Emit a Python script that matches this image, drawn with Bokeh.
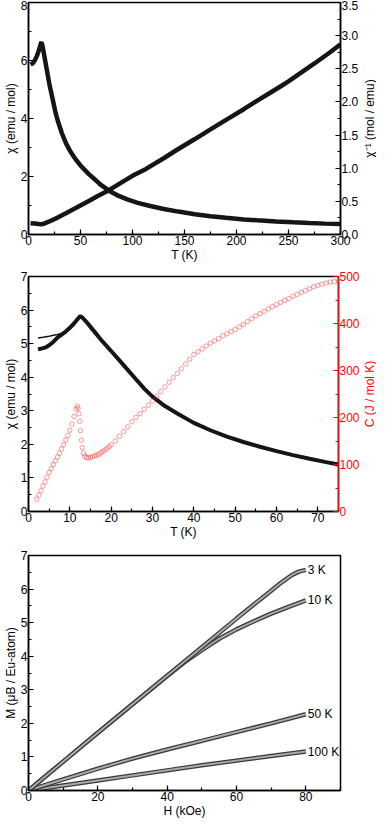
import math
from bokeh.plotting import figure
from bokeh.models import Range1d, LinearAxis, SingleIntervalTicker, PrintfTickFormatter
from bokeh.layouts import column, row
from bokeh.embed import file_html
from bokeh.resources import INLINE
from bokeh.core.properties import value

FONT = "Liberation Sans"

# ---------------- Panel 1 data: chi(T) and 1/chi(T), 2-300 K ----------------
t_chi1 = [2, 4, 6, 8, 10, 12, 12.5, 13.5, 15, 16, 18, 20, 23.5, 26, 28, 32, 36, 40,
          45.4, 50, 58, 65, 70, 77, 85, 95, 105, 116, 130, 144, 160, 175, 190,
          207, 220, 238, 255, 270, 285, 300]
chi1 = [5.86, 5.9, 6.0, 6.15, 6.35, 6.6, 6.63, 6.5, 6.2, 6.0, 5.6, 5.2, 4.62, 4.2,
        3.94, 3.5, 3.15, 2.88, 2.59, 2.38, 2.08, 1.86, 1.70, 1.52, 1.36, 1.21, 1.09,
        0.99, 0.88, 0.79, 0.70, 0.63, 0.575, 0.52, 0.49, 0.45, 0.42, 0.395, 0.375, 0.36]
t_inv1 = [2, 6, 10, 12.5, 15, 20, 28, 36, 45, 58, 67, 77, 90, 100, 113, 130, 144, 160,
          175, 190, 207, 220, 232, 243, 250, 260, 275, 290, 300]
inv1 = [0.17, 0.165, 0.158, 0.155, 0.165, 0.197, 0.255, 0.32, 0.395, 0.505, 0.585,
        0.665, 0.79, 0.885, 0.99, 1.15, 1.29, 1.44, 1.585, 1.73, 1.89, 2.02, 2.135,
        2.24, 2.31, 2.42, 2.58, 2.75, 2.87]

# ---------------- Panel 2 data: chi(T) and C(T), 2-75 K ----------------
t_chi2 = [2.3, 3, 4, 5, 6, 7, 8, 9, 10, 11, 12, 12.5, 13, 14, 15, 16, 17, 18, 20,
          22, 24, 26, 28, 30, 33, 36, 40, 44, 48, 52, 56, 60, 64, 68, 72, 75]
chi2 = [4.83, 4.85, 4.88, 4.95, 5.05, 5.18, 5.27, 5.36, 5.47, 5.6, 5.75, 5.82, 5.78,
        5.65, 5.5, 5.35, 5.2, 5.05, 4.78, 4.5, 4.22, 3.94, 3.66, 3.42, 3.14, 2.92,
        2.64, 2.42, 2.23, 2.07, 1.93, 1.80, 1.68, 1.57, 1.47, 1.40]
t_chi2_up = [2.3, 3.5, 5, 6, 7, 8, 9]
chi2_up = [5.17, 5.19, 5.22, 5.25, 5.27, 5.30, 5.36]

t_c = [2, 2.5, 3, 3.5, 4, 4.5, 5, 5.5, 6, 6.5, 7, 7.5, 8, 8.5, 9, 9.5, 10, 10.5, 11,
       11.5, 11.8, 12.0, 12.2, 12.4, 12.6, 12.8, 13.0, 13.3, 13.6, 14, 14.5, 15, 15.5,
       16, 16.5, 17, 17.5, 18, 18.5, 19, 19.5, 20, 21, 22, 23, 24, 25, 26, 27, 28, 29,
       30, 31, 32, 33, 34, 35, 36, 37, 38, 39, 40, 41, 42, 43, 44, 45, 46, 47, 48, 49,
       50, 51, 52, 53, 54, 55, 56, 57, 58, 59, 60, 61, 62, 63, 64, 65, 66, 67, 68, 69,
       70, 71, 72, 73, 74, 75]
c_vals = [26, 35, 44, 54, 63, 73, 83, 91, 100, 108, 116, 124, 133, 142, 152, 162, 173,
          186, 202, 218, 224, 220, 208, 192, 172, 152, 136, 124, 118, 115, 114, 115,
          117, 118, 120, 122, 125, 128, 131, 134, 138, 142, 150, 160, 170, 180, 191,
          200, 208, 217, 226, 235, 245, 255, 265, 275, 285, 294, 304, 314, 324, 334,
          340, 346, 352, 358, 363, 368, 374, 378, 383, 387, 393, 398, 404, 410, 416,
          421, 426, 431, 436, 440, 445, 449, 453, 458, 462, 466, 470, 474, 478, 481,
          484, 486, 488, 489, 490]

# ---------------- Panel 3 data: M(H) ----------------
h_3k = [0, 5, 10, 20, 30, 40, 50, 60, 65, 70, 73, 76, 78, 80]
m_3k = [0, 0.43, 0.86, 1.72, 2.57, 3.42, 4.27, 5.12, 5.54, 5.95, 6.2, 6.42, 6.52, 6.57]
h_10k = [0, 5, 10, 20, 30, 40, 45, 50, 55, 60, 65, 70, 75, 80]
m_10k = [0, 0.43, 0.86, 1.72, 2.57, 3.41, 3.82, 4.18, 4.52, 4.80, 5.04, 5.27, 5.47, 5.66]
h_50k = [0, 5, 10, 20, 30, 40, 50, 60, 70, 80]
m_50k = [0, 0.17, 0.33, 0.65, 0.95, 1.22, 1.48, 1.74, 2.0, 2.27]
h_100k = [0, 10, 20, 30, 40, 50, 60, 70, 80]
m_100k = [0, 0.15, 0.30, 0.45, 0.60, 0.75, 0.89, 1.03, 1.16]
curve_labels = ["3 K", "10 K", "50 K", "100 K"]

W, BL, BR = 376, 22, 36
SIDE_W = 14


def style_axis(ax, color="black", interval=None):
    ax.axis_line_color = color
    ax.axis_line_width = 1.5
    ax.major_tick_line_color = color
    ax.minor_tick_line_color = color
    ax.major_tick_in = 5
    ax.major_tick_out = 0
    ax.minor_tick_in = 3
    ax.minor_tick_out = 0
    ax.major_tick_line_width = 1.2
    ax.minor_tick_line_width = 1.2
    ax.major_label_text_font = FONT
    ax.major_label_text_font_size = "12px"
    ax.major_label_text_color = color
    ax.axis_label_text_font = FONT
    ax.axis_label_text_font_size = "12px"
    ax.axis_label_text_font_style = "normal"
    ax.axis_label_text_color = color
    ax.major_label_standoff = 1
    ax.axis_label_standoff = 0
    if interval is not None:
        ax.ticker = SingleIntervalTicker(interval=interval, num_minor_ticks=2)


def base_fig(width, height, top, bottom, right, xr, yr):
    p = figure(width=width, height=height, x_range=Range1d(*xr), y_range=Range1d(*yr),
               output_backend="svg", toolbar_location=None,
               min_border_left=BL, min_border_right=right,
               min_border_top=top, min_border_bottom=bottom)
    p.xgrid.visible = False
    p.ygrid.visible = False
    p.outline_line_color = "black"
    p.outline_line_width = 1.5
    p.background_fill_color = "white"
    p.border_fill_color = "white"
    return p


def side_label(height, top, bottom, text, color="black"):
    s = figure(width=SIDE_W, height=height, x_range=Range1d(0, 1), y_range=Range1d(0, 1),
               output_backend="svg", toolbar_location=None,
               x_axis_location=None, y_axis_location=None,
               min_border_left=0, min_border_right=0,
               min_border_top=top, min_border_bottom=bottom)
    s.xgrid.visible = False
    s.ygrid.visible = False
    s.outline_line_color = None
    s.background_fill_color = "white"
    s.border_fill_color = "white"
    s.text(x=[0.5], y=[0.5], text=[text], angle=math.pi / 2, text_align="center",
           text_baseline="middle", text_font=value(FONT), text_font_size="12px",
           text_color=color)
    return s


# ---------------- Panel 1 ----------------
H1, T1, B1 = 266, 2, 32
p1 = base_fig(W - SIDE_W, H1, T1, B1, BR - SIDE_W, (0, 300), (0, 8))
p1.extra_y_ranges = {"inv": Range1d(0, 3.5)}
p1.line(t_chi1, chi1, line_color="#151515", line_width=4.5)
p1.line(t_inv1, inv1, line_color="#151515", line_width=4.5, y_range_name="inv")
style_axis(p1.xaxis[0], interval=50)
style_axis(p1.yaxis[0], interval=2)
p1.xaxis[0].axis_label = "T (K)"
p1.yaxis[0].axis_label = "χ (emu / mol)"
ax1r = LinearAxis(y_range_name="inv")
style_axis(ax1r, interval=0.5)
ax1r.formatter = PrintfTickFormatter(format="%.1f")
p1.add_layout(ax1r, "right")
s1 = side_label(H1, T1, B1, "χ⁻¹ (mol / emu)")

# ---------------- Panel 2 ----------------
H2, T2, B2 = 280, 10, 35
p2 = base_fig(W - SIDE_W, H2, T2, B2, BR - SIDE_W, (0, 75), (0, 7))
p2.extra_y_ranges = {"c": Range1d(0, 500)}
p2.line(t_chi2, chi2, line_color="#151515", line_width=4)
p2.line(t_chi2_up, chi2_up, line_color="#151515", line_width=1.5)
p2.scatter(t_c, c_vals, marker="circle", size=4.5, fill_color=None,
           line_color="#ff3030", line_alpha=0.55, line_width=0.9, y_range_name="c")
style_axis(p2.xaxis[0], interval=10)
style_axis(p2.yaxis[0], interval=1)
p2.xaxis[0].axis_label = "T (K)"
p2.yaxis[0].axis_label = "χ (emu / mol)"
ax2r = LinearAxis(y_range_name="c")
style_axis(ax2r, color="#ff0000", interval=100)
p2.add_layout(ax2r, "right")
s2 = side_label(H2, T2, B2, "C (J / mol K)", color="#ff0000")

# ---------------- Panel 3 ----------------
p3 = base_fig(W, 277, 9, 33, BR, (0, 90), (0, 7))
for hh, mm in [(h_100k, m_100k), (h_50k, m_50k), (h_10k, m_10k), (h_3k, m_3k)]:
    p3.line(hh, mm, line_color="#3a3a3a", line_width=4.5)
    p3.line(hh, mm, line_color="#a8a8a8", line_width=2)
p3.text(x=[h_3k[-1], h_10k[-1], h_50k[-1], h_100k[-1]],
        y=[m_3k[-1], m_10k[-1], m_50k[-1], m_100k[-1]],
        text=curve_labels, text_font=value(FONT), text_font_size="12px",
        text_baseline="middle", text_align="left", x_offset=2, text_color="black")
style_axis(p3.xaxis[0], interval=20)
style_axis(p3.yaxis[0], interval=1)
p3.xaxis[0].axis_label = "H (kOe)"
p3.yaxis[0].axis_label = "M (μB / Eu-atom)"

layout = column(row(p1, s1, spacing=0), row(p2, s2, spacing=0), p3, spacing=0)
open("out.html", "w").write(file_html(layout, INLINE))
